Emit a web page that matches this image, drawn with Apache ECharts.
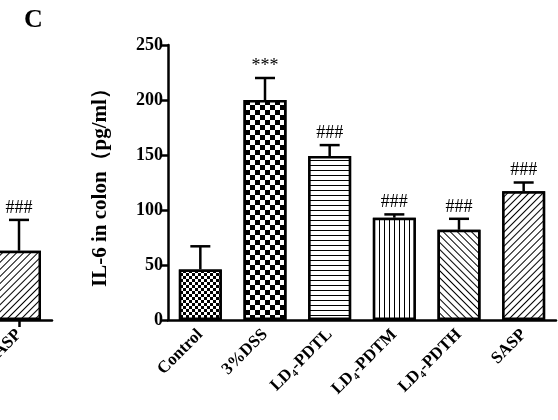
<!DOCTYPE html><html><head><meta charset="utf-8">
<script src="https://cdn.jsdelivr.net/npm/echarts@6/dist/echarts.min.js"></script>
<style>html,body{margin:0;background:#fff}#c{width:558px;height:420px}</style></head><body><div id="c"></div>
<script>
const categories=['Control','3%DSS','LD₄-PDTL','LD₄-PDTM','LD₄-PDTH','SASP'];
const values=[46,200,149,93,82,117];
const errors=[21,20,10,3,10,8];
const marks=['','***','###','###','###','###'];
const yTicks=[0,50,100,150,200,250];
const prevCat=['SASP'];const prevVal=[63];const prevErr=[28];const prevMark=['###'];
const F='"Liberation Serif","Times New Roman",serif';
const lines=(rot)=>({symbol:'rect',symbolSize:1,color:'#000',backgroundColor:'#fff',dashArrayX:[1,0],dashArrayY:[1,3.5],rotation:rot});
const decals=[
 {symbol:'rect',symbolSize:1,color:'#000',backgroundColor:'#fff',dashArrayX:[[3,3],[0,3,3,0]],dashArrayY:[3,0]},
 {symbol:'rect',symbolSize:1,color:'#000',backgroundColor:'#fff',dashArrayX:[[5,5],[0,5,5,0]],dashArrayY:[5,0]},
 lines(0),
 lines(Math.PI/2),
 lines(Math.PI/4),
 lines(-Math.PI/4)
];
function errSeries(xi,yi,data){
 return {type:'custom',xAxisIndex:xi,yAxisIndex:yi,z:5,clip:false,data:data,
 renderItem(p,api){const b=api.coord([api.value(0),api.value(1)]);const t=api.coord([api.value(0),api.value(2)]);
  return {type:'group',children:[
   {type:'line',shape:{x1:b[0],y1:b[1],x2:t[0],y2:t[1]},style:{stroke:'#000',lineWidth:2.5}},
   {type:'line',shape:{x1:t[0]-10,y1:t[1],x2:t[0]+10,y2:t[1]},style:{stroke:'#000',lineWidth:2.5}},
   {type:'text',x:t[0],y:t[1]-3,style:{text:api.value(3),fill:'#000',font:'18px '+F,align:'center',verticalAlign:'bottom'}}]};}};
}
const ch=echarts.init(document.getElementById('c'));
const axisCommon={axisLine:{lineStyle:{color:'#000',width:2.5}},axisTick:{lineStyle:{color:'#000',width:2.5},length:7}};
const xl={rotate:45,color:'#000',fontFamily:F,fontWeight:'bold',fontSize:17,margin:12};
ch.setOption({animation:false,
 title:{text:'C',left:19,top:2,textStyle:{fontFamily:F,fontSize:26,fontWeight:'bold',color:'#000'}},
 grid:[{left:168,right:2,top:45,bottom:100,outerBoundsMode:'none'},{left:0,width:52,top:45,bottom:100,outerBoundsMode:'none'}],
 xAxis:[{type:'category',data:categories,gridIndex:0,...axisCommon,axisTick:{...axisCommon.axisTick,alignWithLabel:true},axisLabel:xl},
  {type:'value',gridIndex:1,min:-0.576,max:1,splitLine:{show:false},axisLine:{show:true,lineStyle:{color:'#000',width:2.5}},
   axisTick:{show:true,customValues:[0],lineStyle:{color:'#000',width:2.5},length:7},
   axisLabel:{...xl,customValues:[0],formatter:()=>prevCat[0]}}],
 yAxis:[{type:'value',gridIndex:0,min:0,max:250,interval:50,splitLine:{show:false},axisLine:{show:true,lineStyle:{color:'#000',width:2.5}},axisTick:{show:true,lineStyle:{color:'#000',width:2.5},length:7},
   axisLabel:{color:'#000',fontFamily:F,fontWeight:'bold',fontSize:18,margin:5},
   name:'IL-6 in colon（pg/ml）',nameLocation:'middle',nameGap:57,nameTextStyle:{fontFamily:F,fontWeight:'bold',fontSize:21,color:'#000'}},
  {type:'value',gridIndex:1,min:0,max:250,show:false}],
 series:[{type:'bar',xAxisIndex:0,yAxisIndex:0,barWidth:43,data:values.map((v,i)=>({value:v,itemStyle:{decal:decals[i]}})),
   itemStyle:{color:'#fff',borderColor:'#000',borderWidth:2.5}},
  errSeries(0,0,values.map((v,i)=>[i,v,v+errors[i],marks[i]])),
  {type:'bar',xAxisIndex:1,yAxisIndex:1,barWidth:44,data:prevVal.map(v=>({value:[0,v],itemStyle:{decal:decals[5]}})),itemStyle:{color:'#fff',borderColor:'#000',borderWidth:2.5}},
  errSeries(1,1,prevVal.map((v,i)=>[0,v,v+prevErr[i],prevMark[i]]))]
});
</script></body></html>
